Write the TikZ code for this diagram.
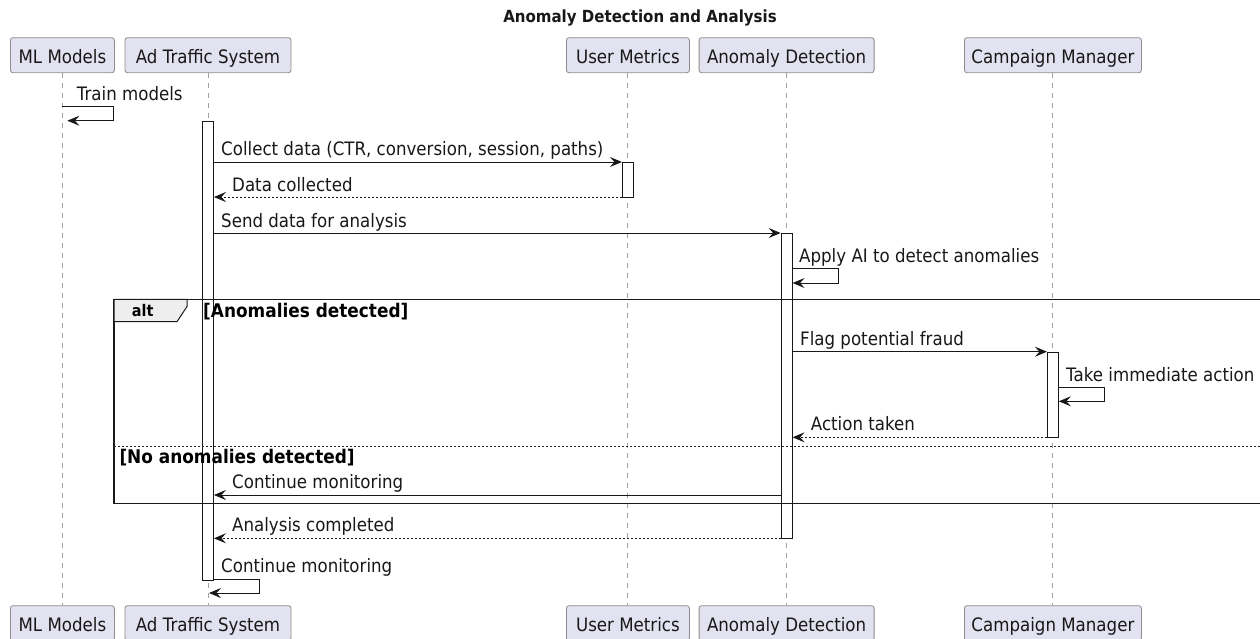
\documentclass[tikz,border=0pt]{standalone}
\usepackage{fontspec}
\setmainfont{DejaVu Sans}[FakeStretch=0.9]
\usetikzlibrary{arrows.meta}
\definecolor{partfill}{HTML}{E2E2F0}
\definecolor{partline}{HTML}{8C8C8C}
\definecolor{ink}{HTML}{181818}
\definecolor{lifeln}{HTML}{A0A0A0}
\definecolor{tabfill}{HTML}{EEEEEE}
\tikzset{
  participant/.style={draw=partline, fill=partfill, rounded corners=2.5pt,
    minimum height=35pt, text height=16.2pt, text depth=0pt, inner sep=0pt,
    font=\fontsize{18.5}{22}\selectfont, text=ink, line width=0.8pt},
  lifeline/.style={draw=lifeln, dash pattern=on 5pt off 5pt, line width=0.9pt},
  activation/.style={draw=ink, fill=white, line width=0.9pt, inner sep=0pt,
    minimum width=11pt, anchor=north},
  msg/.style={draw=ink, line width=0.9pt, -{Stealth[length=12pt,width=10pt,inset=4.5pt]}},
  reply/.style={msg, dash pattern=on 2pt off 2pt},
  msglabel/.style={anchor=base west, inner sep=0pt, font=\fontsize{18.5}{22}\selectfont, text=ink},
  guard/.style={anchor=base west, inner sep=0pt, font=\fontsize{18.8}{22}\selectfont\bfseries, text=black},
  frameline/.style={draw=black!90, line width=1.6pt},
}
\begin{document}
\begin{tikzpicture}[x=1pt, y=-1pt]
\useasboundingbox (0,0) rectangle (1260,638);

% title
\node[inner sep=0pt, font=\fontsize{16.7}{20}\selectfont\bfseries, text=ink] (title) at (640,17.5) {Anomaly Detection and Analysis};

% participants, top and bottom
\node[participant, minimum width=104pt] (mlT) at (62.4,55.2) {ML Models};
\node[participant, minimum width=166pt] (atT) at (208,55.2) {Ad Traffic System};
\node[participant, minimum width=123pt] (umT) at (627.9,55.2) {User Metrics};
\node[participant, minimum width=175pt] (adT) at (786.6,55.2) {Anomaly Detection};
\node[participant, minimum width=177pt] (cmT) at (1052.9,55.2) {Campaign Manager};
\node[participant, minimum width=104pt] (mlB) at (62.4,623.2) {ML Models};
\node[participant, minimum width=166pt] (atB) at (208,623.2) {Ad Traffic System};
\node[participant, minimum width=123pt] (umB) at (627.9,623.2) {User Metrics};
\node[participant, minimum width=175pt] (adB) at (786.6,623.2) {Anomaly Detection};
\node[participant, minimum width=177pt] (cmB) at (1052.9,623.2) {Campaign Manager};

% lifelines
\foreach \p in {ml,at,um,ad,cm}
  \draw[lifeline] (\p T.south) -- (\p B.north);

% activation bars
\node[activation, minimum height=459.3pt] (actAT) at (208,120.7) {};
\node[activation, minimum height=35pt] (actUM) at (627.9,162) {};
\node[activation, minimum height=305.3pt] (actAD) at (786.6,233) {};
\node[activation, minimum height=85.6pt] (actCM) at (1052.9,351.7) {};

% alt fragment
\draw[frameline] (1262,299.3) -- (114,299.3) -- (114,503.3) -- (1262,503.3);
\draw[frameline, line width=1pt, fill=tabfill] (114,299.3) -- (187,299.3) -- (187,306.5) -- (177,321.7) -- (114,321.7) -- cycle;
\node[anchor=base west, inner sep=0pt, font=\fontsize{16}{19}\selectfont\bfseries, text=black] (altlbl) at (131.7,316) {alt};
\node[guard] (g1) at (203,317.3) {[Anomalies detected]};
\draw[draw=black!85, line width=0.9pt, dash pattern=on 2pt off 2pt] (114,446.7) -- (1262,446.7);
\node[guard] (g2) at (119.3,463.3) {[No anomalies detected]};

% message rows
\coordinate (y1a) at (0,106.7);  \coordinate (y1b) at (0,120.7);
\coordinate (y2) at (0,162);
\coordinate (y3) at (0,197);
\coordinate (y4) at (0,233);
\coordinate (y5a) at (0,268);    \coordinate (y5b) at (0,283);
\coordinate (y6) at (0,351.7);
\coordinate (y7a) at (0,387.3);  \coordinate (y7b) at (0,401.3);
\coordinate (y8) at (0,437.3);
\coordinate (y9) at (0,495);
\coordinate (y10) at (0,538.3);
\coordinate (y11a) at (0,579);   \coordinate (y11b) at (0,593);

% messages
\draw[msg] (mlT.south |- y1a) -- ++(51,0) |- ([xshift=5pt]mlT.south |- y1b);
\draw[msg] (actAT.east |- y2) -- (actUM.west |- y2);
\draw[reply] (actUM.west |- y3) -- (actAT.east |- y3);
\draw[msg] (actAT.east |- y4) -- (actAD.west |- y4);
\draw[msg] (actAD.east |- y5a) -- ++(46,0) |- (actAD.east |- y5b);
\draw[msg] (actAD.east |- y6) -- (actCM.west |- y6);
\draw[msg] (actCM.east |- y7a) -- ++(46,0) |- (actCM.east |- y7b);
\draw[reply] (actCM.west |- y8) -- (actAD.east |- y8);
\draw[msg] (actAD.west |- y9) -- (actAT.east |- y9);
\draw[reply] (actAD.west |- y10) -- (actAT.east |- y10);
\draw[msg] (actAT.east |- y11a) -- ++(45.5,0) |- ([xshift=1pt]atT.south |- y11b);

% message labels
\node[msglabel] (l1) at (76.7,100.7) {Train models};
\node[msglabel] (l2) at (221,155.7) {Collect data (CTR, conversion, session, paths)};
\node[msglabel] (l3) at (232,191) {Data collected};
\node[msglabel] (l4) at (221,227) {Send data for analysis};
\node[msglabel] (l5) at (799,262) {Apply AI to detect anomalies};
\node[msglabel] (l6) at (800,345.7) {Flag potential fraud};
\node[msglabel] (l7) at (1066,381.7) {Take immediate action};
\node[msglabel] (l8) at (810.7,430.7) {Action taken};
\node[msglabel] (l9) at (232,488.3) {Continue monitoring};
\node[msglabel] (l10) at (232,531.7) {Analysis completed};
\node[msglabel] (l11) at (221,572.7) {Continue monitoring};
\end{tikzpicture}
\end{document}
